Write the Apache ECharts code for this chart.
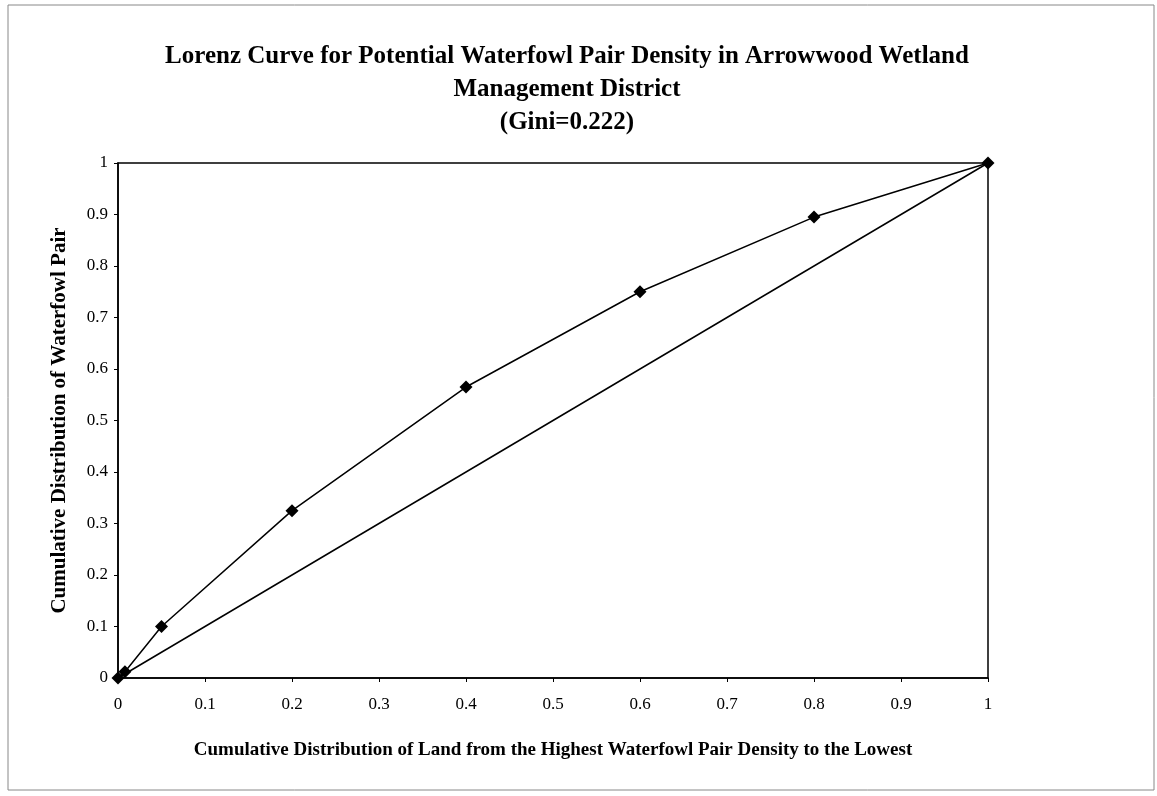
<!DOCTYPE html>
<html><head><meta charset="utf-8">
<script src="https://cdn.jsdelivr.net/npm/echarts@6/dist/echarts.min.js"></script>
<style>html,body{margin:0;padding:0;background:#fff}#c{width:1157px;height:796px}</style>
</head><body><div id="c"></div>
<script>
const titleText = "Lorenz Curve for Potential Waterfowl Pair Density in Arrowwood Wetland\nManagement District\n(Gini=0.222)";
const xAxisName = "Cumulative Distribution of Land from the Highest Waterfowl Pair Density to the Lowest";
const yAxisName = "Cumulative Distribution of Waterfowl Pair";
const landShare = [0, 0.008, 0.05, 0.2, 0.4, 0.6, 0.8, 1];
const pairShare = [0, 0.012, 0.1, 0.325, 0.565, 0.75, 0.895, 1];
const equalityX = [0, 1];
const equalityY = [0, 1];
const font = "'Liberation Serif','Times New Roman',serif";
const chart = echarts.init(document.getElementById('c'));
chart.setOption({
  animation: false,
  backgroundColor: '#fff',
  title: {
    text: titleText, left: 562, textAlign: 'center', top: 35,
    textStyle: {fontFamily: font, fontWeight: 'bold', fontSize: 25, lineHeight: 33, color: '#000'}
  },
  graphic: [{type: 'rect', shape: {x: 8, y: 5, width: 1146, height: 785},
    style: {fill: 'none', stroke: '#888', lineWidth: 1}}],
  grid: {left: 118, right: 169, top: 163, bottom: 118, show: true, borderColor: '#000', borderWidth: 1.5},
  xAxis: {
    type: 'value', min: 0, max: 1, interval: 0.1,
    name: xAxisName, nameLocation: 'middle', nameGap: 63,
    nameTextStyle: {fontFamily: font, fontWeight: 'bold', fontSize: 19, color: '#000'},
    axisLine: {lineStyle: {color: '#000', width: 1.5}},
    axisTick: {show: true, length: 4, lineStyle: {color: '#000'}},
    axisLabel: {fontFamily: font, fontSize: 17, color: '#000', margin: 18,
      formatter: v => String(Math.round(v * 10) / 10)},
    splitLine: {show: false}
  },
  yAxis: {
    type: 'value', min: 0, max: 1, interval: 0.1,
    name: yAxisName, nameLocation: 'middle', nameGap: 48,
    nameTextStyle: {fontFamily: font, fontWeight: 'bold', fontSize: 21, color: '#000'},
    axisLine: {show: true, lineStyle: {color: '#000', width: 1.5}},
    axisTick: {show: true, length: 4, lineStyle: {color: '#000'}},
    axisLabel: {fontFamily: font, fontSize: 17, color: '#000', margin: 10,
      formatter: v => String(Math.round(v * 10) / 10)},
    splitLine: {show: false}
  },
  series: [
    {type: 'line', data: landShare.map((x, i) => [x, pairShare[i]]),
      symbol: 'diamond', symbolSize: 13, showSymbol: true,
      lineStyle: {color: '#000', width: 1.5}, itemStyle: {color: '#000'}},
    {type: 'line', data: equalityX.map((x, i) => [x, equalityY[i]]),
      symbol: 'none', lineStyle: {color: '#000', width: 1.5}}
  ]
});
</script></body></html>
